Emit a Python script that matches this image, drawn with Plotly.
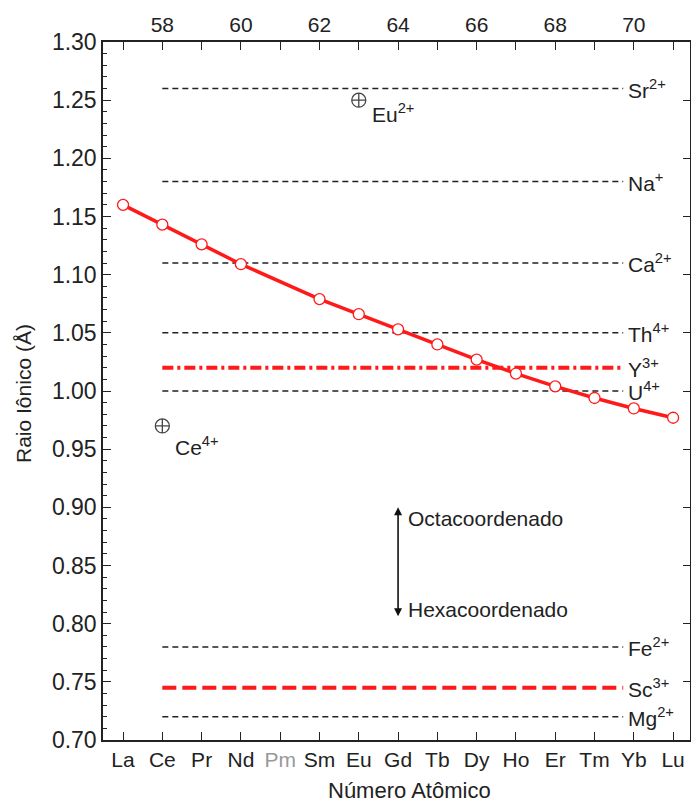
import plotly.graph_objects as go

# ---------------- data ----------------
ln_symbols = ["La", "Ce", "Pr", "Nd", "Pm", "Sm", "Eu", "Gd", "Tb", "Dy", "Ho", "Er", "Tm", "Yb", "Lu"]
ln_numbers = [57, 58, 59, 60, 61, 62, 63, 64, 65, 66, 67, 68, 69, 70, 71]
ln_radii = [1.160, 1.143, 1.126, 1.109, None, 1.079, 1.066, 1.053, 1.040, 1.027, 1.015, 1.004, 0.994, 0.985, 0.977]

ion_labels = ["Sr<sup>2+</sup>", "Na<sup>+</sup>", "Ca<sup>2+</sup>", "Th<sup>4+</sup>", "Y<sup>3+</sup>",
              "U<sup>4+</sup>", "Fe<sup>2+</sup>", "Sc<sup>3+</sup>", "Mg<sup>2+</sup>"]
ion_radii = [1.26, 1.18, 1.11, 1.05, 1.02, 1.00, 0.78, 0.745, 0.72]
ion_styles = ["black", "black", "black", "black", "red_dashdot", "black", "black", "red_dash", "black"]

special_labels = ["Eu<sup>2+</sup>", "Ce<sup>4+</sup>"]
special_x = [63, 58]
special_radii = [1.25, 0.97]

coord_labels = ["Octacoordenado", "Hexacoordenado"]
coord_radii = [0.90, 0.805]
coord_x = 64

top_labels = [str(n) if n % 2 == 0 else "" for n in ln_numbers]

# ---------------- style ----------------
FONT = "Liberation Sans, Arial, sans-serif"
TXT = "#222222"
AX = "#222222"
RED = "#ff1a1a"
XRANGE = [56.49, 71.43]
YRANGE = [0.70, 1.30]
LINE_START = ln_numbers[1]
LINE_END = 69.73
LABEL_X = 69.85
FS = 21

fig = go.Figure()

# reference ion lines
for lab, r, st in zip(ion_labels, ion_radii, ion_styles):
    if st == "black":
        line = dict(color="#222222", width=1.5, dash="6px,4px")
    elif st == "red_dashdot":
        line = dict(color=RED, width=4, dash="11px,4px,3px,4px")
    else:
        line = dict(color=RED, width=4, dash="14px,6px")
    fig.add_trace(go.Scatter(x=[LINE_START, LINE_END], y=[r, r], mode="lines", line=line,
                             showlegend=False, hoverinfo="skip"))
    fig.add_annotation(x=LABEL_X, y=r, xref="x", yref="y", text=lab, showarrow=False,
                       xanchor="left", yanchor="middle", xshift=-2,
                       font=dict(family=FONT, size=FS, color=TXT))

# lanthanide curve
fig.add_trace(go.Scatter(x=ln_numbers, y=ln_radii, mode="lines+markers", connectgaps=True,
                         line=dict(color=RED, width=3.5),
                         marker=dict(symbol="circle", size=11, color="white", line=dict(color=RED, width=1.3)),
                         showlegend=False))

# special ions
fig.add_trace(go.Scatter(x=special_x, y=special_radii, mode="markers",
                         marker=dict(symbol="circle-cross-open", size=14, color="#444444", line=dict(width=1.3)),
                         showlegend=False))
for lab, xv, r, ys in zip(special_labels, special_x, special_radii, [2, -5]):
    fig.add_annotation(x=xv, y=r, xref="x", yref="y", text=lab, showarrow=False,
                       xanchor="left", yanchor="top", xshift=11, yshift=ys,
                       font=dict(family=FONT, size=FS, color=TXT))

# coordination arrow
fig.add_annotation(x=coord_x, y=coord_radii[0], ax=coord_x, ay=coord_radii[1], xref="x", yref="y",
                   axref="x", ayref="y", text="", showarrow=True, arrowhead=2, arrowside="end+start",
                   arrowsize=1, arrowwidth=1.6, arrowcolor="#111111")
for lab, r, sh in zip(coord_labels, coord_radii, [-11, 8]):
    fig.add_annotation(x=coord_x, y=r, xref="x", yref="y", text=lab, showarrow=False,
                       xanchor="left", yanchor="middle", xshift=8, yshift=sh,
                       font=dict(family=FONT, size=FS, color=TXT))

# helper trace for secondary axes
fig.add_trace(go.Scatter(x=[None], y=[None], xaxis="x2", yaxis="y2", showlegend=False, hoverinfo="skip"))

ticktext_bottom = [f"<span style='color:#999999'>{s}</span>" if s == "Pm" else s for s in ln_symbols]

fig.update_layout(
    width=691, height=802,
    margin=dict(l=103, r=1, t=42, b=62),
    paper_bgcolor="white", plot_bgcolor="white",
    font=dict(family=FONT, color=TXT),
    xaxis=dict(range=XRANGE, tickmode="array", tickvals=ln_numbers, ticktext=ticktext_bottom,
               ticks="inside", ticklen=8, tickwidth=1.3, tickcolor=AX,
               showline=True, linecolor=AX, linewidth=1.5, showgrid=False, zeroline=False,
               tickfont=dict(family=FONT, size=FS, color=TXT)),
    xaxis2=dict(range=XRANGE, overlaying="x", side="top", anchor="y", tickmode="array",
                tickvals=ln_numbers, ticktext=top_labels,
                ticks="inside", ticklen=8, tickwidth=1.3, tickcolor=AX,
                showline=True, linecolor=AX, linewidth=1.5, showgrid=False, zeroline=False,
                tickfont=dict(family=FONT, size=FS, color=TXT)),
    yaxis=dict(range=YRANGE, dtick=0.05, tick0=0.70, tickformat=".2f",
               ticks="inside", ticklen=8, tickwidth=1.3, tickcolor=AX,
               minor=dict(dtick=0.01, ticks="inside", ticklen=4, tickwidth=1, tickcolor=AX),
               showline=True, linecolor=AX, linewidth=1.5, showgrid=False, zeroline=False,
               tickfont=dict(family=FONT, size=23, color=TXT)),
    yaxis2=dict(range=YRANGE, overlaying="y", side="right", anchor="x", dtick=0.05, tick0=0.70,
                ticks="inside", ticklen=7, tickwidth=1.3, tickcolor=AX, showticklabels=False,
                showline=True, linecolor=AX, linewidth=1.5, showgrid=False, zeroline=False),
)

# axis titles
fig.add_annotation(text="Número Atômico", xref="paper", yref="paper", x=(409 - 103) / 587, y=0,
                   yshift=-50, showarrow=False, xanchor="center", yanchor="middle",
                   font=dict(family=FONT, size=22, color=TXT))
fig.add_annotation(text="Raio Iônico (Å)", xref="paper", yref="paper", x=-(103 - 23) / 587, y=0.5,
                   yshift=-3, textangle=-90, showarrow=False, xanchor="center", yanchor="middle",
                   font=dict(family=FONT, size=FS, color=TXT))

fig.write_html("out.html")
